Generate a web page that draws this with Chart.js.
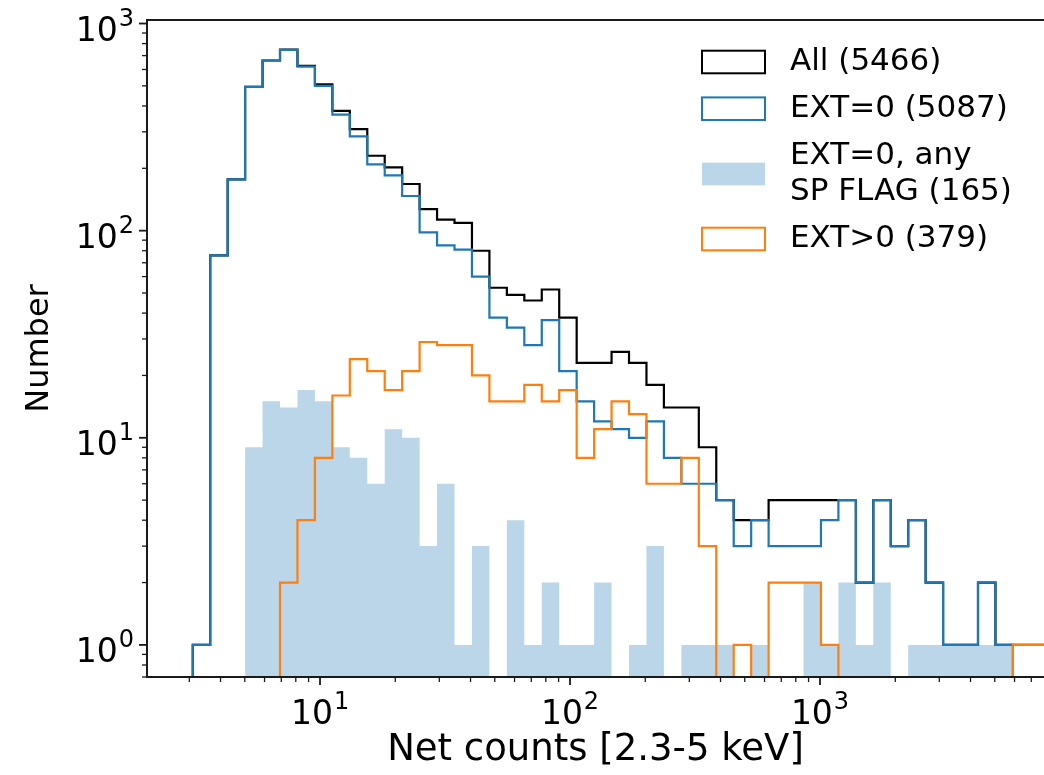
<!DOCTYPE html>
<html>
<head>
<meta charset="utf-8">
<script src="https://cdn.jsdelivr.net/npm/chart.js@4.4.0/dist/chart.umd.min.js"></script>
<style>
    html, body { margin: 0; padding: 0; background: #fff; overflow: hidden; }
    #wrap { width: 1044px; height: 775px; }
</style>
</head>
<body>
<div id="wrap"><canvas id="histChart" width="1044" height="775"></canvas></div>
<script>
// histogram binning (log10 of first edge, bin width in dex)
const firstEdgeLog = 0.491;
const binWidthLog = 0.0698;
const nBins = 49;

// counts per bin
const countsAll = [1, 76, 177, 494, 663, 748, 624, 508, 379, 309,
    230, 202, 168, 127, 113, 109, 80, 53, 49, 46,
    52, 38, 23, 23, 26, 23, 18, 14, 14, 9,
    5, 4, 4, 5, 5, 5, 5, 5, 2, 5,
    3, 4, 2, 1, 1, 2, 1, 1, 1];
const countsExt0 = [1, 76, 177, 494, 663, 746, 620, 500, 363, 285,
    209, 185, 147, 98, 85, 81, 60, 38, 34, 28,
    37, 21, 15, 12, 11, 10, 12, 8, 6, 6,
    5, 3, 4, 3, 3, 3, 4, 5, 2, 5,
    3, 4, 2, 1, 1, 2, 1, 0, 0];
const countsSpFlag = [0, 0, 0, 9, 15, 14, 17, 15, 9, 8,
    6, 11, 10, 3, 6, 1, 3, 0, 4, 1,
    2, 1, 1, 2, 0, 1, 3, 0, 1, 1,
    1, 0, 1, 0, 0, 2, 1, 2, 1, 2,
    0, 1, 1, 1, 1, 1, 1, 0, 0];
const countsExtPos = [0, 0, 0, 0, 0, 2, 4, 8, 16, 24,
    21, 17, 21, 29, 28, 28, 20, 15, 15, 18,
    15, 17, 8, 11, 15, 13, 6, 6, 8, 3,
    0, 1, 0, 2, 2, 2, 1, 0, 0, 0,
    0, 0, 0, 0, 0, 0, 0, 1, 1];

const seriesLabels = [["All (5466)"], ["EXT=0 (5087)"], ["EXT=0, any", "SP FLAG (165)"], ["EXT>0 (379)"]];

// tick labels as base + exponent (drawn like 10^n)
const xTickValues = [10, 100, 1000];
const xTickExps = ["1", "2", "3"];
const yTickValues = [1, 10, 100, 1000];
const yTickExps = ["0", "1", "2", "3"];

const xMin = 2.032, xMax = 7870;
const yMin = 0.715, yMax = 1040;

const binEdges = [];
for (let i = 0; i <= nBins; i++) {
    binEdges.push(Math.pow(10, firstEdgeLog + i * binWidthLog));
}

// outline of a step histogram: up at first edge, across each bin, down at the end.
// empty bins go below the axis floor so they get clipped (log scale has no 0)
function stepPoints(counts) {
    const below = yMin / 10;
    const pts = [{ x: binEdges[0], y: below }];
    counts.forEach((c, i) => pts.push({ x: binEdges[i], y: c > 0 ? c : below }));
    pts.push({ x: binEdges[counts.length], y: below });
    return pts;
}

const FONT = "'DejaVu Sans', 'Liberation Sans', sans-serif";
const BLUE = "#1f77b4";
const ORANGE = "#ff7f0e";
const SHADE = "rgba(31, 119, 180, 0.3)";

const legendStyles = [
    { stroke: "#000000", fill: null },
    { stroke: BLUE, fill: null },
    { stroke: null, fill: SHADE },
    { stroke: ORANGE, fill: null }
];

function drawMinorMajor(ctx, scale, horizontal, edge) {
    const lo = Math.floor(Math.log10(scale.min));
    const hi = Math.ceil(Math.log10(scale.max));
    for (let d = lo; d <= hi; d++) {
        for (let k = 1; k <= 9; k++) {
            const v = k * Math.pow(10, d);
            if (v < scale.min || v > scale.max) continue;
            const p = scale.getPixelForValue(v);
            const len = k === 1 ? 8 : 5;
            ctx.lineWidth = k === 1 ? 1.8 : 1.3;
            ctx.beginPath();
            if (horizontal) {
                ctx.moveTo(p, edge);
                ctx.lineTo(p, edge + len);
            } else {
                ctx.moveTo(edge, p);
                ctx.lineTo(edge - len, p);
            }
            ctx.stroke();
        }
    }
}

// "10" with a raised, smaller exponent; align 'center' or 'right' at x, baseline at y
function drawPow10(ctx, exp, x, y, align) {
    ctx.font = "33px " + FONT;
    const wBase = ctx.measureText("10").width;
    ctx.font = "24px " + FONT;
    const wExp = ctx.measureText(exp).width;
    const total = wBase + 1 + wExp;
    const left = align === "right" ? x - total : x - total / 2;
    ctx.font = "33px " + FONT;
    ctx.fillText("10", left, y);
    ctx.font = "24px " + FONT;
    ctx.fillText(exp, left + wBase + 1, y - 15);
}

const framePlugin = {
    id: "frame",
    afterDatasetsDraw(chart) {
        const { ctx, chartArea: a, scales } = chart;
        ctx.save();
        ctx.strokeStyle = "#1a1a1a";
        ctx.lineWidth = 2;
        ctx.beginPath();
        ctx.moveTo(a.right + 2, a.top);
        ctx.lineTo(a.left, a.top);
        ctx.lineTo(a.left, a.bottom);
        ctx.lineTo(a.right + 2, a.bottom);
        ctx.stroke();
        drawMinorMajor(ctx, scales.x, true, a.bottom);
        drawMinorMajor(ctx, scales.y, false, a.left);

        ctx.fillStyle = "#000";
        ctx.textAlign = "left";
        ctx.textBaseline = "alphabetic";
        xTickValues.forEach((v, i) => {
            drawPow10(ctx, xTickExps[i], scales.x.getPixelForValue(v), a.bottom + 47, "center");
        });
        yTickValues.forEach((v, i) => {
            drawPow10(ctx, yTickExps[i], a.left - 13, scales.y.getPixelForValue(v) + 17, "right");
        });
        ctx.restore();
    }
};

const legendPlugin = {
    id: "histLegend",
    afterDraw(chart) {
        const ctx = chart.ctx;
        const rowCenters = [62, 108.7, 174, 239];
        const lineStep = 36.7;
        ctx.save();
        ctx.font = "31px " + FONT;
        ctx.textBaseline = "middle";
        ctx.textAlign = "left";
        seriesLabels.forEach((lines, i) => {
            const cy = rowCenters[i];
            const st = legendStyles[i];
            if (st.fill) {
                ctx.fillStyle = st.fill;
                ctx.fillRect(702, cy - 11.3, 63, 22.6);
            }
            if (st.stroke) {
                ctx.strokeStyle = st.stroke;
                ctx.lineWidth = 2;
                ctx.strokeRect(702, cy - 11.3, 63, 22.6);
            }
            ctx.fillStyle = "#000";
            const y0 = cy - (lines.length - 1) * lineStep / 2;
            lines.forEach((t, j) => ctx.fillText(t, 790, y0 + j * lineStep));
        });
        ctx.restore();
    }
};

const ctx = document.getElementById("histChart").getContext("2d");

new Chart(ctx, {
    type: "line",
    data: {
        datasets: [
            {
                label: seriesLabels[0].join(" "),
                data: stepPoints(countsAll),
                borderColor: "#000000",
                borderWidth: 2.2,
                order: 3
            },
            {
                label: seriesLabels[1].join(" "),
                data: stepPoints(countsExt0),
                borderColor: BLUE,
                borderWidth: 2.2,
                order: 2
            },
            {
                label: seriesLabels[2].join(" "),
                data: stepPoints(countsSpFlag),
                borderColor: "rgba(0,0,0,0)",
                borderWidth: 0,
                backgroundColor: SHADE,
                fill: "start",
                order: 4
            },
            {
                label: seriesLabels[3].join(" "),
                data: stepPoints(countsExtPos),
                borderColor: ORANGE,
                borderWidth: 2.2,
                order: 1
            }
        ]
    },
    options: {
        responsive: false,
        animation: false,
        devicePixelRatio: 1,
        layout: { padding: { left: 0, top: 20, right: 0, bottom: 0 } },
        elements: {
            point: { radius: 0 },
            line: { stepped: "before", tension: 0, fill: false }
        },
        plugins: {
            legend: { display: false },
            tooltip: { enabled: false }
        },
        scales: {
            x: {
                type: "logarithmic",
                position: "bottom",
                min: xMin,
                max: xMax,
                grid: { display: false, drawTicks: false },
                border: { display: false },
                afterFit: (scale) => { scale.height = 98; },
                ticks: { display: false },
                title: {
                    display: true,
                    text: "Net counts [2.3-5 keV]",
                    color: "#000",
                    font: { family: FONT, size: 37 },
                    padding: { top: 0, bottom: 2 }
                }
            },
            y: {
                type: "logarithmic",
                position: "left",
                min: yMin,
                max: yMax,
                grid: { display: false, drawTicks: false },
                border: { display: false },
                afterFit: (scale) => { scale.width = 147; },
                ticks: { display: false },
                title: {
                    display: true,
                    text: "Number",
                    color: "#000",
                    font: { family: FONT, size: 32 },
                    padding: { top: 20, bottom: 0 }
                }
            }
        }
    },
    plugins: [framePlugin, legendPlugin]
});
</script>
</body>
</html>
